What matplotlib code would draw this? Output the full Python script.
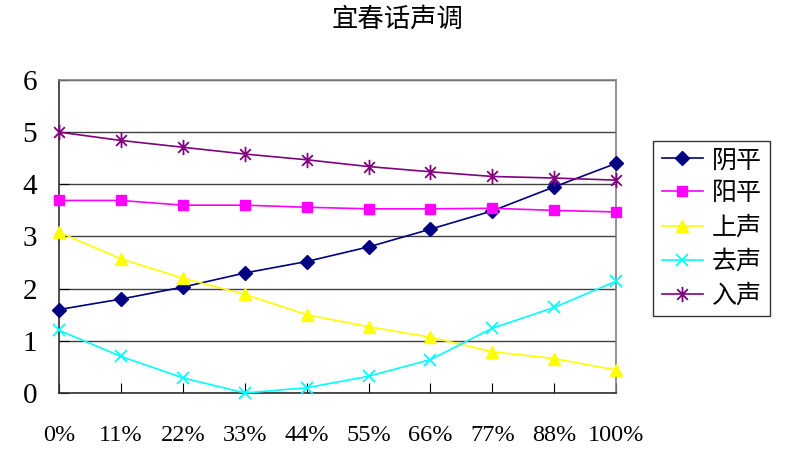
import numpy as np
import matplotlib
matplotlib.use('Agg')
import matplotlib.pyplot as plt
from matplotlib.path import Path

plt.rcParams['font.family'] = ['Liberation Serif', 'Noto Sans CJK SC', 'DejaVu Sans']

# --- data ---
categories = ['0%', '11%', '22%', '33%', '44%', '55%', '66%', '77%', '88%', '100%']
yinping = [1.60, 1.80, 2.03, 2.30, 2.52, 2.80, 3.14, 3.49, 3.95, 4.40]
yangping = [3.69, 3.69, 3.60, 3.60, 3.56, 3.53, 3.53, 3.54, 3.50, 3.47]
shangsheng = [3.08, 2.57, 2.20, 1.89, 1.50, 1.27, 1.07, 0.79, 0.66, 0.44]
qusheng = [1.20, 0.70, 0.29, 0.00, 0.10, 0.32, 0.64, 1.24, 1.64, 2.14]
rusheng = [5.00, 4.84, 4.71, 4.58, 4.47, 4.34, 4.24, 4.15, 4.12, 4.08]

series_names = ['阴平', '阳平', '上声', '去声', '入声']
series_colors = ['#000080', '#FF00FF', '#FFFF00', '#00FFFF', '#800080']

# excel-style asterisk: an x with a vertical bar through it
star = Path([(0, -1), (0, 1), (-0.7, -0.7), (0.7, 0.7), (-0.7, 0.7), (0.7, -0.7)],
            [Path.MOVETO, Path.LINETO, Path.MOVETO, Path.LINETO, Path.MOVETO, Path.LINETO])

markers = ['D', 's', '^', 'x', star]
msizes = [7, 7, 8, 8, 11]

fig = plt.figure(figsize=(8, 4.53), dpi=100)
ax = fig.add_axes([0.074, 0.1325, 0.696, 0.691])

x = np.arange(len(categories))
all_series = [yinping, yangping, shangsheng, qusheng, rusheng]
for vals, name, col, mk, ms in zip(all_series, series_names, series_colors, markers, msizes):
    ax.plot(x, vals, color=col, marker=mk, markersize=ms, linewidth=1.2,
            markeredgewidth=1.3 if (mk == 'x' or mk is star) else 1.0,
            label=name, zorder=3, clip_on=False)

ax.set_xlim(0, len(categories) - 1)
ax.set_ylim(0, 6)
ax.set_yticks(range(0, 7))
ax.set_xticks(x)
ax.set_xticklabels(categories, fontsize=17.5)
ax.tick_params(axis='y', labelsize=21, direction='in', length=7, pad=16)
ax.tick_params(axis='x', direction='in', length=7, pad=23)

ax.yaxis.grid(True, color='#404040', linewidth=1.0)
ax.set_axisbelow(True)
for side in ['top', 'right']:
    ax.spines[side].set_color('#808080')
for side in ['left', 'bottom']:
    ax.spines[side].set_color('#303030')
for sp in ax.spines.values():
    sp.set_linewidth(1.2)

fig.suptitle('宜春话声调', fontsize=19, x=0.497, y=0.985)

leg = fig.legend(loc='upper left', bbox_to_anchor=(0.816, 0.689), fontsize=18,
                 frameon=True, fancybox=False, handlelength=1.65, labelspacing=0.42,
                 borderpad=0.35, handletextpad=0.35, borderaxespad=0)
leg.get_frame().set_edgecolor('black')
leg.get_frame().set_linewidth(1.0)

fig.savefig('out.png', dpi=100)
